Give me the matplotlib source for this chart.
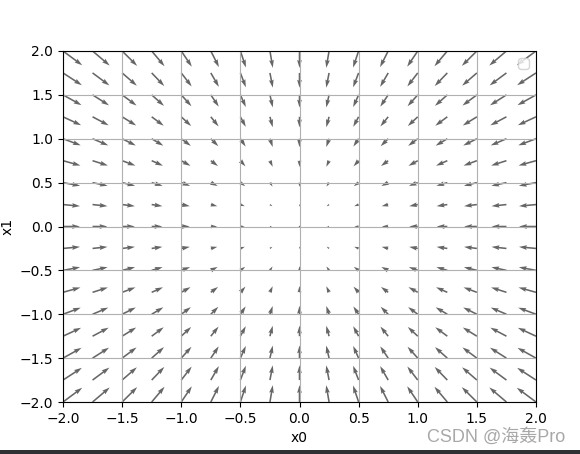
import matplotlib
matplotlib.use("Agg")
import matplotlib.pyplot as plt
import numpy as np
from matplotlib.patches import Rectangle

# grid of sample points (same for both axes)
x0_points = [-2.0, -1.75, -1.5, -1.25, -1.0, -0.75, -0.5, -0.25, 0.0,
             0.25, 0.5, 0.75, 1.0, 1.25, 1.5, 1.75, 2.0, 2.25]
x1_points = [-2.0, -1.75, -1.5, -1.25, -1.0, -0.75, -0.5, -0.25, 0.0,
             0.25, 0.5, 0.75, 1.0, 1.25, 1.5, 1.75, 2.0, 2.25]

# negative gradient components, per column (x0) and per row (x1)
neg_grad_x0 = [4.0, 3.5, 3.0, 2.5, 2.0, 1.5, 1.0, 0.5, 0.0,
               -0.5, -1.0, -1.5, -2.0, -2.5, -3.0, -3.5, -4.0, -4.5]
neg_grad_x1 = [4.0, 3.5, 3.0, 2.5, 2.0, 1.5, 1.0, 0.5, 0.0,
               -0.5, -1.0, -1.5, -2.0, -2.5, -3.0, -3.5, -4.0, -4.5]

X, Y = np.meshgrid(x0_points, x1_points)
U, V = np.meshgrid(neg_grad_x0, neg_grad_x1)

fig = plt.figure(figsize=(5.8, 4.54), dpi=100)
ax = fig.add_axes([63 / 580, 52 / 454, 473 / 580, 351 / 454])

ax.quiver(X.flatten(), Y.flatten(), U.flatten(), V.flatten(),
          angles="xy", color="#666666")
ax.set_xlim([-2, 2])
ax.set_ylim([-2, 2])
ax.set_xlabel("x0")
ax.set_ylabel("x1")
ax.grid()
ax.legend(handles=[], loc="upper right")

# watermark and dark strip along the bottom edge
fig.text(0.974, 0.037, "CSDN @海轰Pro", ha="right", va="center",
         fontsize=13, color="#a8a8a8",
         family=["Liberation Sans", "Noto Sans CJK SC"])
fig.patches.append(Rectangle((0, 0), 1, 4 / 454, transform=fig.transFigure,
                             facecolor="#2e3034", edgecolor="none"))

fig.savefig("out.png", dpi=100)
